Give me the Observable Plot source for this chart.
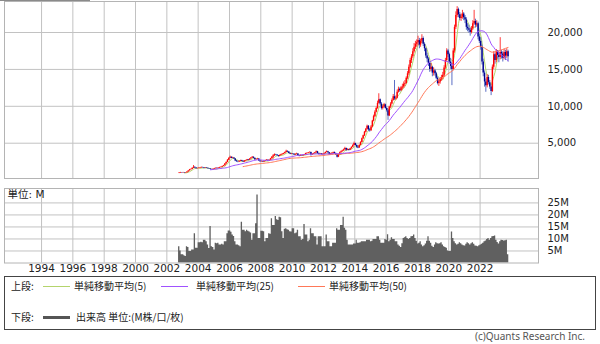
<!DOCTYPE html>
<html><head><meta charset="utf-8">
<script src="https://cdn.jsdelivr.net/npm/d3@7"></script>
<script src="https://cdn.jsdelivr.net/npm/@observablehq/plot@0.6"></script>
<style>
body{margin:0;background:#fff;width:600px;height:344px;overflow:hidden;position:relative;font-family:"DejaVu Sans","Noto Sans CJK JP",sans-serif;color:#222;}
#price{position:absolute;left:0;top:0}
#vol{position:absolute;left:0;top:186px}
#topbar{position:absolute;left:0;top:0;width:90px;height:1px;background:#8a8a8a}
#legend{position:absolute;left:4px;top:276px;width:592px;height:54px;border:1px solid #444;box-sizing:border-box;}
#legend span{position:absolute;font-size:10px;line-height:12px;white-space:nowrap;font-family:"Noto Sans CJK JP","DejaVu Sans",sans-serif;}
#legend i{position:absolute;display:block;}
#copy{position:absolute;right:15px;top:329px;font-size:10px;color:#555;font-family:"Noto Sans","DejaVu Sans",sans-serif;}
</style></head><body>
<div id="price"></div><div id="vol"></div><div id="topbar"></div>
<div id="legend"></div>
<div id="copy">(c)Quants Research Inc.</div>
<script>
// Monthly candles, October 2002 - October 2023
const startYear = 2002, startMonth = 10;
const close = [
 950,1000,980,
 1000,960,990,1100,1250,1400,1450,1600,1750,1650,1550,1580,
 1600,1650,1700,1680,1600,1650,1600,1550,1500,1420,1400,1480,
 1550,1600,1580,1620,1700,1750,1850,1950,2200,2400,2700,2950,
 3100,2950,3000,2850,2600,2500,2450,2550,2650,2550,2450,2600,
 2650,2750,2700,2850,3000,3100,2950,2750,2800,2850,2600,2500,
 2500,2450,2550,2650,2700,2600,2700,2900,3100,3300,3450,3400,
 3300,3200,3350,3450,3500,3600,3750,3900,3800,3600,3500,3550,
 3500,3400,3500,3550,3300,3250,3350,3300,3400,3450,3600,3650,
 3700,3750,3400,3500,3600,3700,3850,3600,3500,3550,3450,3500,
 3600,3750,3850,3700,3450,3550,3650,3750,3600,3400,3100,3450,
 3700,3850,3950,4100,4300,4050,4150,4050,4250,4450,4700,4950,
 4700,4450,4350,4700,5100,5600,6000,6500,6900,7300,6800,6700,
 7200,8000,8600,9200,9700,10400,10900,10300,9700,9900,10200,9700,
 9400,8700,9900,10300,10800,11300,11000,11100,11900,12300,12100,12500,
 12600,13000,13100,13800,14400,15300,16200,16700,17400,18000,18400,18600,
 18900,18300,18800,19200,18400,17800,16800,16400,15800,15000,15300,14500,
 14800,14400,13800,13100,13300,13600,13900,14200,15200,16200,17500,17000,
 16000,15400,15000,17500,20700,22300,23100,22400,21900,22100,22500,22000,
 21700,20700,20500,20300,20000,20500,21200,21500,21000,21200,19400,18800,
 18000,16000,14500,13300,12800,13900,13200,12600,12000,15300,17000,16200,
 17500,16900,16600,17300,17100,16500,17300,16800,17400,16700];
const open = [
 900,950,1000,
 980,1000,960,990,1100,1250,1400,1450,1600,1750,1650,1550,
 1580,1600,1650,1700,1680,1600,1650,1600,1550,1500,1420,1400,
 1480,1550,1600,1580,1620,1700,1750,1850,1950,2200,2400,2700,
 2950,3100,2950,3000,2850,2600,2500,2450,2550,2650,2550,2450,
 2600,2650,2750,2700,2850,3000,3100,2950,2750,2800,2850,2600,
 2500,2500,2450,2550,2650,2700,2600,2700,2900,3100,3300,3450,
 3400,3300,3200,3350,3450,3500,3600,3750,3900,3800,3600,3500,
 3550,3500,3400,3500,3550,3300,3250,3350,3300,3400,3450,3600,
 3650,3700,3750,3400,3500,3600,3700,3850,3600,3500,3550,3450,
 3500,3600,3750,3850,3700,3450,3550,3650,3750,3600,3400,3100,
 3450,3700,3850,3950,4100,4300,4050,4150,4050,4250,4450,4700,
 4950,4700,4450,4350,4700,5100,5600,6000,6500,6900,7300,6800,
 6700,7200,8000,8600,9200,9700,10400,10900,10300,9700,9900,10200,
 9700,9400,8700,9900,10300,10800,11300,11000,11100,11900,12300,12100,
 12500,12600,13000,13100,13800,14400,15300,16200,16700,17400,18000,18400,
 18600,18900,18300,18800,19200,18400,17800,16800,16400,15800,15000,15300,
 14500,14800,14400,13800,13100,13300,13600,13900,14200,15200,16200,17500,
 17000,16000,15400,15000,17500,20700,22300,23100,22400,21900,22100,22500,
 22000,21700,20700,20500,20300,20000,20500,21200,21500,21000,21200,19400,
 18800,18000,16000,14500,13300,12800,13900,13200,12600,12000,15300,17000,
 16200,17500,16900,16600,17300,17100,16500,17300,16800,17400];
const high = [
 1000,1050,1030,
 1050,1030,1020,1130,1280,1450,1520,1650,1980,1780,1680,1620,
 1680,1720,1780,1760,1700,1700,1680,1620,1580,1520,1460,1520,
 1600,1650,1640,1680,1750,1800,1900,2000,2250,2480,2780,3000,
 3250,3150,3100,3050,2900,2650,2550,2600,2700,2700,2600,2650,
 2700,2800,2800,2900,3050,3200,3150,2980,2850,2950,2900,2650,
 2600,2550,2600,2700,2780,2750,2750,2950,3200,3450,3550,3500,
 3450,3350,3400,3500,3600,3650,3800,4050,3950,3850,3650,3600,
 3600,3550,3550,3650,3600,3350,3400,3400,3450,3500,3650,3700,
 3750,3850,3800,3550,3650,3750,3950,3900,3650,3600,3600,3550,
 3650,3800,3950,3900,3750,3600,3700,3800,3800,3650,3450,3500,
 3800,3950,4050,4200,4450,4350,4250,4200,4300,4500,4800,5150,
 5000,4800,4550,4800,5200,5700,6100,6600,7000,7450,7400,7000,
 7400,8100,8800,9400,9900,10700,11700,11000,10500,10100,10400,10300,
 9900,9600,10000,10500,11000,11600,13500,11400,12200,12600,12500,12700,
 13000,13300,13500,14000,14700,15600,16500,17000,17800,18500,18800,19000,
 19500,19200,19100,19700,19400,18600,17900,17200,16600,16000,15800,15400,
 15200,15000,14600,14000,13600,13900,14200,14600,15500,16500,17800,17700,
 17200,16500,15800,17800,21000,22800,23500,23300,22700,22500,23000,22700,
 22300,22000,21200,21000,20600,20800,21600,23000,21800,21600,21400,19800,
 19300,18300,16400,14800,13700,14300,14200,13500,12900,15600,17400,17200,
 17700,17500,17300,19300,17600,17400,17700,17600,17800,17600];
const low = [
 880,920,950,
 950,930,920,970,1080,1230,1360,1420,1580,1600,1500,1510,
 1530,1560,1620,1620,1540,1560,1560,1500,1460,1380,1350,1380,
 1450,1520,1540,1550,1600,1680,1720,1820,1920,2150,2350,2650,
 2900,2900,2900,2800,2500,2400,2350,2400,2500,2500,2400,2420,
 2550,2600,2620,2680,2820,2950,2900,2650,2700,2750,2550,2400,
 2400,2380,2420,2520,2620,2550,2550,2650,2850,2900,3200,3300,
 3250,3100,3150,3300,3400,3450,3550,3700,3750,3550,3450,3450,
 3450,3350,3350,3450,3250,3150,3200,3250,3250,3350,3400,3550,
 3600,3650,3250,3350,3450,3550,3650,3500,3400,3450,3400,3400,
 3450,3550,3700,3650,3400,3400,3500,3600,3550,3350,3000,3050,
 3400,3650,3800,3900,4050,3900,4000,3950,4000,4200,4400,4650,
 4600,4300,4250,4300,4650,5050,5500,5900,6400,6800,6600,6500,
 6600,7100,7900,8500,9100,9600,10300,10100,9500,9500,9800,9600,
 9200,8100,8600,9700,10200,10700,10800,10800,11000,11800,11900,12000,
 12200,12400,12700,13000,13600,14200,15100,15800,16500,17200,17700,18000,
 18200,17800,18000,18500,18100,17400,16500,15900,15400,14600,14700,14000,
 14100,14100,13600,12900,12700,13000,13400,13600,14000,15000,16000,16600,
 15700,15000,12800,14800,17200,20400,22000,22000,21600,21500,21800,21600,
 21200,20300,20100,19900,19500,19800,20300,21000,20600,20700,19000,18500,
 17600,15600,14000,12600,11900,12500,12900,12300,11450,11900,15000,15700,
 15900,16400,15900,16300,16400,16000,16300,16200,16500,16000];
// Monthly volume, millions
const volume = [
 6.8,5.0,3.4,
 3.4,3.0,2.7,6.8,6.5,4.8,4.8,5.4,5.4,12.2,6.1,6.1,
 8.4,8.4,8.6,8.4,9.5,9.5,8.8,7.5,6.0,15.2,6.8,6.5,
 5.4,8.2,8.0,8.2,7.5,7.5,7.8,7.5,8.8,8.8,12.2,13.3,
 13.3,12.8,11.6,11.0,8.8,7.5,7.5,7.2,6.8,17.0,13.6,13.6,
 13.0,13.6,13.2,12.9,12.5,9.5,12.2,12.2,16.3,28.3,10.2,10.2,
 13.2,13.2,13.0,8.8,10.2,10.2,12.2,12.0,18.4,15.6,15.6,19.3,
 18.0,17.7,19.0,18.8,13.0,10.2,14.0,14.3,13.8,13.6,13.0,12.9,
 14.3,14.3,12.2,12.5,13.6,10.9,10.9,9.5,9.8,16.0,11.6,11.6,
 8.8,9.5,14.3,12.2,12.2,10.9,10.9,7.5,10.9,10.9,10.9,6.8,
 6.8,6.8,11.6,8.8,8.8,6.8,6.8,8.2,8.2,8.2,14.3,13.6,
 13.6,15.6,15.6,19.0,14.5,13.6,9.5,7.5,7.5,7.5,7.5,7.9,
 7.9,9.5,8.2,8.2,8.4,8.8,8.8,8.8,8.8,9.5,9.5,9.5,
 8.8,9.0,9.8,9.8,9.8,10.9,10.9,9.5,8.2,8.2,8.2,9.8,
 9.5,11.8,8.8,9.5,10.5,9.8,9.8,8.8,8.8,7.5,7.0,6.5,
 8.0,10.2,10.5,10.9,10.2,9.8,10.2,10.9,11.0,11.6,10.2,9.0,
 7.9,8.2,8.8,7.5,6.8,7.2,7.9,9.0,10.9,9.0,8.2,7.0,
 6.5,7.5,8.4,8.0,7.9,8.0,8.4,7.5,6.8,6.5,6.1,5.0,
 4.8,4.8,12.9,10.2,8.8,8.0,7.5,7.8,8.4,8.0,7.5,7.2,
 7.1,7.8,8.4,8.0,7.5,8.0,8.4,7.8,7.1,7.0,6.8,7.2,
 7.5,7.8,8.2,8.8,9.2,9.8,10.2,9.5,10.2,10.9,11.0,11.2,
 9.5,8.5,7.9,8.8,9.5,9.4,9.2,9.3,9.5,3.4];
const yearTicks = [1994,1996,1998,2000,2002,2004,2006,2008,2010,2012,2014,2016,2018,2020,2022];
const priceTicks = [5000,10000,15000,20000];
const volTicks = [5,10,15,20,25];
const maPeriods = [5,25,50];
const maColors = ["#b4d46c","#a052ff","#ff7858"];
const legendTop = ["単純移動平均(5)","単純移動平均(25)","単純移動平均(50)"];

const mstart = i => new Date(Date.UTC(startYear, startMonth-1+i, 1));
const mmid = i => new Date(Date.UTC(startYear, startMonth-1+i, 15));
function sma(k){return close.map((c,i)=> i<k-1 ? NaN : d3.mean(close.slice(i-k+1,i+1)));}
const mas = maPeriods.map(sma);
const rows = close.map((c,i)=>({date:mmid(i), o:open[i], h:high[i], l:low[i], c, up:c>=open[i],
  m5:mas[0][i], m25:mas[1][i], m50:mas[2][i], v:volume[i], x1:mstart(i)}));
// step outline of the volume bars (each month's bar runs from its first day to the next month's)
const volSteps = rows.map(r=>({x:r.x1, v:r.v})).concat([{x:mstart(volume.length), v:volume[volume.length-1]}]);
const yearDates = yearTicks.map(y=>new Date(Date.UTC(y,0,1)));
const xDomain = [new Date(Date.UTC(1991,7,21)), new Date(Date.UTC(2025,8,24))];
const grid = "#c2c2c2";
const font = {fontFamily:'"DejaVu Sans","Noto Sans CJK JP",sans-serif', fontSize:"10px", color:"#222", background:"transparent"};

const price = Plot.plot({
  width:600, height:180, marginLeft:4, marginRight:62, marginTop:1, marginBottom:2,
  x:{type:"utc", domain:xDomain, axis:null},
  y:{domain:[220,24200], axis:null},
  style:font,
  marks:[
    Plot.ruleX(yearDates,{x:d=>d, stroke:grid}),
    Plot.ruleY(priceTicks,{y:d=>d, stroke:grid}),
    Plot.frame({stroke:"#b4b4b4"}),
    Plot.line(rows,{x:"date", y:"m5", stroke:maColors[0], strokeWidth:1}),
    Plot.ruleX(rows,{x:"date", y1:"l", y2:"h", stroke:d=>d.up?"#ff3b3b":"#5a6ec4", strokeWidth:1}),
    Plot.ruleX(rows,{x:"date", y1:"o", y2:"c", stroke:d=>d.up?"#ff0000":"#000090", strokeWidth:1.4}),
    Plot.line(rows,{x:"date", y:"m50", stroke:maColors[2], strokeWidth:1}),
    Plot.line(rows,{x:"date", y:"m25", stroke:maColors[1], strokeWidth:1}),
    Plot.text(priceTicks,{y:d=>d, text:d=>d3.format(",")(d), frameAnchor:"right", textAnchor:"start", dx:9, fill:"#222"})
  ]
});
document.getElementById("price").appendChild(price);

const vol = Plot.plot({
  width:600, height:92, marginLeft:4, marginRight:62, marginTop:2, marginBottom:15.5,
  x:{type:"utc", domain:xDomain, axis:null},
  y:{domain:[0,31], axis:null},
  style:font,
  marks:[
    Plot.ruleX(yearDates,{x:d=>d, stroke:grid}),
    Plot.ruleY(volTicks,{y:d=>d, stroke:grid}),
    Plot.areaY(volSteps,{x:"x", y:"v", curve:"step-after", fill:"#606060"}),
    Plot.frame({stroke:"#b4b4b4"}),
    Plot.text(volTicks,{y:d=>d, text:d=>d+"M", frameAnchor:"right", textAnchor:"start", dx:9, fill:"#222"}),
    Plot.text(yearDates,{x:d=>d, text:d=>String(d.getUTCFullYear()), frameAnchor:"bottom", lineAnchor:"top", dy:2, fill:"#222", fontSize:10.5}),
    Plot.text(["単位: M"],{text:d=>d, frameAnchor:"top-left", textAnchor:"start", lineAnchor:"top", dx:3, dy:2, fill:"#222", fontSize:10.5})
  ]
});
document.getElementById("vol").appendChild(vol);

// legend
const lg = document.getElementById("legend");
function add(html){lg.insertAdjacentHTML("beforeend", html);}
const r1 = 3, r2 = 34;
add(`<span style="left:6px;top:${r1}px">上段:</span>`);
const lx = [38,156,293], tx = [69,191,324];
legendTop.forEach((t,k)=>{
  add(`<i style="left:${lx[k]}px;top:${r1+6}px;width:27px;height:1px;background:${maColors[k]}"></i>`);
  add(`<span style="left:${tx[k]}px;top:${r1}px">${t}</span>`);
});
add(`<span style="left:6px;top:${r2}px">下段:</span>`);
add(`<i style="left:38px;top:${r2+5}px;width:27px;height:3px;background:#555"></i>`);
add(`<span style="left:71px;top:${r2}px">出来高 単位:(M株/口/枚)</span>`);
</script>
</body></html>
